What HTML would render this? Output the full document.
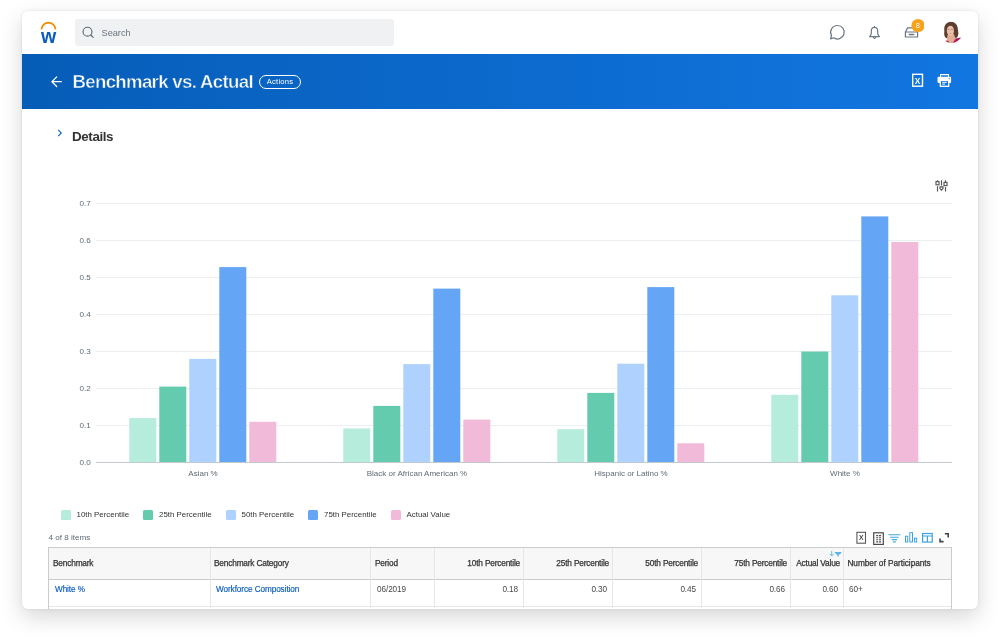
<!DOCTYPE html>
<html lang="en">
<head>
<meta charset="utf-8">
<title>Benchmark vs. Actual</title>
<style>
*{box-sizing:border-box;margin:0;padding:0}
html,body{width:1000px;height:642px;background:#fff;overflow:hidden;font-family:"Liberation Sans",sans-serif;color:#333}
#card{position:absolute;left:22px;top:11px;width:956px;height:598px;background:#fff;border-radius:6px;overflow:hidden;
 box-shadow:0 0 3px rgba(0,0,0,.10),0 8px 22px rgba(0,0,0,.16)}
#wrap{position:absolute;left:-22px;top:-11px;width:1000px;height:642px}
.abs{position:absolute}
#search{left:75px;top:19px;width:319px;height:26.6px;background:#f0f1f2;border-radius:3px}
#search span{position:absolute;left:26.5px;top:8.5px;font-size:9.2px;color:#69747f}
#hdr{left:22px;top:54px;width:956px;height:55.2px;background:linear-gradient(90deg,#065db8 0%,#1276e1 100%)}
#title{left:72.5px;top:71px;font-size:18.6px;line-height:22px;font-weight:bold;color:#fff;white-space:nowrap;letter-spacing:-0.66px;-webkit-text-stroke:.45px #0960bf}
#actions{left:259px;top:75px;width:42px;height:14px;border:1px solid #fff;border-radius:7px;color:#fff;font-size:7.6px;letter-spacing:.2px;text-align:center;line-height:12px}
#details{left:72px;top:129px;font-size:13.4px;line-height:16px;letter-spacing:-.4px;font-weight:bold;color:#333}
.yl{position:absolute;left:70.8px;margin-top:.1px;font-size:8.1px;color:#5e6a75;width:20px;text-align:right}
.xl{position:absolute;top:468.7px;font-size:8px;color:#5e6a75;width:214px;text-align:center;white-space:nowrap}
.lg{position:absolute;top:509.8px;font-size:7.9px;color:#333;white-space:nowrap;line-height:10px}
.lg i{position:absolute;left:-16px;top:0;width:10px;height:10px;border-radius:1.5px}
#items{left:48.5px;top:533.2px;font-size:8.1px;color:#5e6a75}
#tbl{left:48px;top:547px;width:904px;height:70px;border:1px solid #c9cbcd;border-bottom:none}
#thead{left:49px;top:548px;width:902px;height:32px;background:#f7f7f8;border-bottom:1px solid #c9cbcd}
.vd{position:absolute;top:548px;width:1px;height:60px;background:#e4e6e8}
.th{position:absolute;top:558px;font-size:8.3px;letter-spacing:-.18px;color:#333;-webkit-text-stroke:.25px #333;white-space:nowrap}
.td{position:absolute;top:585.4px;font-size:8.2px;letter-spacing:-.08px;color:#494949;white-space:nowrap}
.r{text-align:right}
a{color:#0a5cbd;text-decoration:none;-webkit-text-stroke:.15px #0a5cbd}
#rowline{left:49px;top:606px;width:902px;height:1px;background:#e4e6e8}
</style>
</head>
<body>
<div id="card"><div id="wrap">
<!-- top bar -->
<svg class="abs" style="left:38px;top:19px" width="22" height="26" viewBox="0 0 22 26">
 <path d="M3.6 9.7 A6.95 6.95 0 0 1 17.4 9.7" fill="none" stroke="#f38b00" stroke-width="1.8" stroke-linecap="round"/>
 <text x="10.5" y="24.1" text-anchor="middle" font-family="Liberation Sans, sans-serif" font-weight="bold" font-size="19.6" fill="#0b5cbe">w</text>
</svg>
<div id="search" class="abs">
 <svg class="abs" style="left:7px;top:6px" width="14" height="14" viewBox="0 0 14 14"><circle cx="5.5" cy="6.7" r="4.45" fill="none" stroke="#5e6a75" stroke-width="1.15"/><path d="M8.8 10 L11.2 12.4" stroke="#5e6a75" stroke-width="1.15" stroke-linecap="round"/></svg>
 <span>Search</span>
</div>
<!-- right icons -->
<svg class="abs" style="left:824px;top:18px" width="100" height="28" viewBox="824 18 100 28">
 <g fill="none" stroke="#6b7782" stroke-width="1.2" stroke-linejoin="round" stroke-linecap="round">
  <path d="M837.4 25.5 A6.75 6.75 0 1 1 833.6 37.8 L830.6 38.9 L831.5 35.5 A6.75 6.75 0 0 1 837.4 25.5 Z"/>
  <path d="M874.5 26.4 V27.3 M874.5 27.3 C872 27.3 871.3 29.4 871.3 31.2 V33.6 C871.3 34.8 870.4 35.6 869.6 36.6 H879.4 C878.6 35.6 877.7 34.8 877.7 33.6 V31.2 C877.7 29.4 877 27.3 874.5 27.3 Z"/>
  <path d="M873.4 37.6 A1.2 1.2 0 0 0 875.6 37.6"/>
  <path d="M905.4 32 L907.6 27.9 H915.4 L917.6 32 V37 H905.4 Z M905.4 32 H917.6"/>
  <path d="M909.2 34.5 H913.8" stroke-width="1.3"/>
 </g>
 <circle cx="918" cy="25.5" r="6.6" fill="#f9a21b"/>
 <text x="918" y="27.9" text-anchor="middle" font-family="Liberation Sans, sans-serif" font-size="6.8" fill="#fff">8</text>
</svg>
<!-- avatar -->
<svg class="abs" style="left:940px;top:20px" width="24" height="24" viewBox="940 20 24 24">
 <defs><clipPath id="avc"><circle cx="951.5" cy="32.2" r="10.7"/></clipPath></defs>
 <g clip-path="url(#avc)">
  <path d="M951 21.8 C946.5 21.8 943.8 25.5 944.3 30 C944.5 32.5 943.8 34 944.6 36 C945.4 38 947.5 39 950 38.6 L956.5 37.8 C958.6 36.5 958.6 33 958 30.5 C958 25.5 955.5 21.8 951 21.8 Z" fill="#5d3d2b"/>
  <path d="M947.6 35 L953.8 34 L955.4 38.2 L956 43.5 H946 Z" fill="#dfae94"/>
  <ellipse cx="950.4" cy="30.8" rx="3.6" ry="5.2" fill="#e9bfa9"/>
  <path d="M947.6 26.5 C948.5 24.6 951.5 24.3 953.6 26.4 C952 25.9 949.5 25.9 947.6 26.5Z" fill="#6b4a36"/>
  <ellipse cx="948.9" cy="29.4" rx=".75" ry=".45" fill="#5a4034"/><ellipse cx="952" cy="29.4" rx=".75" ry=".45" fill="#5a4034"/>
  <ellipse cx="950.4" cy="33.4" rx="1.1" ry=".45" fill="#cf7f7c"/>
  <path d="M952.6 43.5 L955.6 38.6 L960.8 37.6 L962.5 43.5 Z" fill="#b2195a"/>
  <path d="M944.5 43.5 L945.8 40.6 L948.4 41 L949.6 43.5 Z" fill="#b2195a"/>
 </g>
</svg>
<!-- header -->
<div id="hdr" class="abs"></div>
<svg class="abs" style="left:48px;top:72px" width="18" height="20" viewBox="48 72 18 20"><path d="M61.3 81.7 H52.2 M56.7 76.9 L51.9 81.7 L56.7 86.5" fill="none" stroke="#fff" stroke-width="1.25" stroke-linecap="round" stroke-linejoin="round"/></svg>
<div id="title" class="abs">Benchmark vs. Actual</div>
<div id="actions" class="abs">Actions</div>
<svg class="abs" style="left:908px;top:70px" width="48" height="20" viewBox="908 70 48 20">
 <rect x="912.7" y="74.3" width="9.8" height="11.9" fill="none" stroke="#fff" stroke-width="1.4"/>
 <text x="917.6" y="83.5" text-anchor="middle" font-family="Liberation Sans, sans-serif" font-size="8.4" font-weight="bold" fill="#fff">X</text>
 <path d="M940.5 77 V74.6 H948.5 V77" fill="none" stroke="#fff" stroke-width="1.05"/>
 <rect x="937.5" y="76.8" width="13.6" height="6.2" rx="1.2" fill="#fff"/>
 <rect x="940.3" y="80.4" width="8.4" height="5.9" fill="#1273de" stroke="#fff" stroke-width="1.3"/>
 <path d="M942.2 82.3 H946.8 M942.2 84.1 H945" stroke="#fff" stroke-width="1"/>
 <circle cx="949.2" cy="78.6" r=".7" fill="#1273de"/>
</svg>
<!-- details -->
<svg class="abs" style="left:55.6px;top:127.8px" width="8" height="10" viewBox="0 0 8 10"><path d="M2.2 1.9 L5.3 5 L2.2 8.1" fill="none" stroke="#0b62c4" stroke-width="1.1"/></svg>
<div id="details" class="abs">Details</div>
<!-- chart -->
<svg class="abs" style="left:0;top:0" width="1000" height="642" viewBox="0 0 1000 642" id="chart">
 <g stroke="#eceef0" stroke-width="1">
  <path d="M96 203.5H952M96 240.5H952M96 277.5H952M96 314.5H952M96 351.5H952M96 388.5H952M96 425.5H952"/>
 </g>
 <g id="bars">
<rect x="129.3" y="418.1" width="27" height="44.4" fill="#b5ecdc"/>
<rect x="159.3" y="386.6" width="27" height="75.8" fill="#65cbae"/>
<rect x="189.3" y="358.9" width="27" height="103.6" fill="#aed2fd"/>
<rect x="219.3" y="267.1" width="27" height="195.4" fill="#64a5f6"/>
<rect x="249.3" y="421.8" width="27" height="40.7" fill="#f1bad8"/>
<rect x="343.3" y="428.5" width="27" height="34.0" fill="#b5ecdc"/>
<rect x="373.3" y="405.9" width="27" height="56.6" fill="#65cbae"/>
<rect x="403.3" y="364.1" width="27" height="98.4" fill="#aed2fd"/>
<rect x="433.3" y="288.6" width="27" height="173.9" fill="#64a5f6"/>
<rect x="463.3" y="419.6" width="27" height="42.9" fill="#f1bad8"/>
<rect x="557.3" y="429.2" width="27" height="33.3" fill="#b5ecdc"/>
<rect x="587.3" y="392.9" width="27" height="69.6" fill="#65cbae"/>
<rect x="617.3" y="363.7" width="27" height="98.8" fill="#aed2fd"/>
<rect x="647.3" y="287.1" width="27" height="175.4" fill="#64a5f6"/>
<rect x="677.3" y="443.3" width="27" height="19.2" fill="#f1bad8"/>
<rect x="771.3" y="394.8" width="27" height="67.7" fill="#b5ecdc"/>
<rect x="801.3" y="351.5" width="27" height="111.0" fill="#65cbae"/>
<rect x="831.3" y="295.3" width="27" height="167.2" fill="#aed2fd"/>
<rect x="861.3" y="216.4" width="27" height="246.1" fill="#64a5f6"/>
<rect x="891.3" y="242.0" width="27" height="220.5" fill="#f1bad8"/>
</g>
 <path d="M96 462.5H952" stroke="#c4c9d0" stroke-width="1"/>
 <g stroke="#555" stroke-width="1.15" fill="#fff">
  <path d="M937.5 180.2V181.5M937.5 186.3V191.6M941.5 180.2V185.6M945.5 180.2V182M945.5 187V191.6"/>
  <rect x="936" y="181.6" width="3" height="3.2"/><path d="M940 186.8H943V188.6L941.5 190.2L940 188.6Z"/><rect x="944" y="182.4" width="3" height="3.2"/>
 </g>
</svg>
<div class="yl" style="top:199px">0.7</div>
<div class="yl" style="top:236px">0.6</div>
<div class="yl" style="top:273px">0.5</div>
<div class="yl" style="top:310px">0.4</div>
<div class="yl" style="top:347px">0.3</div>
<div class="yl" style="top:384px">0.2</div>
<div class="yl" style="top:421px">0.1</div>
<div class="yl" style="top:458px">0.0</div>
<div class="xl" style="left:96px">Asian %</div>
<div class="xl" style="left:310px">Black or African American %</div>
<div class="xl" style="left:524px">Hispanic or Latino %</div>
<div class="xl" style="left:738px">White %</div>
<div class="lg" style="left:76.5px"><i style="background:#b5ecdc"></i>10th Percentile</div>
<div class="lg" style="left:159px"><i style="background:#65cbae"></i>25th Percentile</div>
<div class="lg" style="left:241.5px"><i style="background:#aed2fd"></i>50th Percentile</div>
<div class="lg" style="left:324px"><i style="background:#64a5f6"></i>75th Percentile</div>
<div class="lg" style="left:406.5px"><i style="background:#f1bad8"></i>Actual Value</div>
<!-- table -->
<div id="items" class="abs">4 of 8 items</div>
<div id="tbl" class="abs"></div>
<div id="thead" class="abs"></div>
<div class="vd" style="left:210px"></div><div class="vd" style="left:370px"></div><div class="vd" style="left:434px"></div><div class="vd" style="left:523px"></div><div class="vd" style="left:612px"></div><div class="vd" style="left:701px"></div><div class="vd" style="left:790px"></div><div class="vd" style="left:843px"></div>
<div id="rowline" class="abs"></div>
<div class="th" style="left:53px">Benchmark</div>
<div class="th" style="left:214px">Benchmark Category</div>
<div class="th" style="left:375px">Period</div>
<div class="th r" style="right:480px">10th Percentile</div>
<div class="th r" style="right:391px">25th Percentile</div>
<div class="th r" style="right:302px">50th Percentile</div>
<div class="th r" style="right:213px">75th Percentile</div>
<div class="th r" style="right:160px">Actual Value</div>
<div class="th" style="left:847.4px;letter-spacing:-.05px">Number of Participants</div>
<div class="td" style="left:55px"><a>White %</a></div>
<div class="td" style="left:216px"><a>Workforce Composition</a></div>
<div class="td" style="left:377px">06/2019</div>
<div class="td r" style="right:482px">0.18</div>
<div class="td r" style="right:393px">0.30</div>
<div class="td r" style="right:304px">0.45</div>
<div class="td r" style="right:215px">0.66</div>
<div class="td r" style="right:162px">0.60</div>
<div class="td" style="left:849px">60+</div>
<svg class="abs" style="left:826px;top:548px" width="18" height="10" viewBox="826 548 18 10"><path d="M831.7 550.9V555.8M829.8 554L831.7 556L833.6 554" fill="none" stroke="#5bb6e8" stroke-width=".9"/><path d="M834.9 552H841.3V552.9L838.8 554.9V556.6H837.4V554.9L834.9 552.9Z" fill="#5bb6e8"/></svg>
<!-- table toolbar icons -->
<svg class="abs" style="left:852px;top:528px" width="102" height="20" viewBox="852 528 102 20" id="tb">
 <rect x="856.9" y="532.3" width="8.6" height="10.9" fill="none" stroke="#5a5a5a" stroke-width="1.1"/>
 <text x="861.2" y="540.4" text-anchor="middle" font-family="Liberation Sans, sans-serif" font-size="6.8" font-weight="bold" fill="#4a4a4a">X</text>
 <rect x="873.7" y="532.8" width="9.6" height="11.6" fill="none" stroke="#4a4a4a" stroke-width="1.2"/>
 <path d="M876.2 535.6H881M876.2 537.7H881M876.2 539.8H881M876.2 541.9H881" stroke="#4a4a4a" stroke-width="1.1" stroke-dasharray="2 0.8"/>
 <path d="M888.4 534.7H900.4M890.2 537.2H898.6M891.7 539.6H897.1M893 541.8H895.8" stroke="#45a9e2" stroke-width="1.15"/>
 <g fill="none" stroke="#3ba3e0" stroke-width="1"><rect x="905.5" y="536.2" width="2.2" height="5.8"/><rect x="909.8" y="532.7" width="2.7" height="9.3"/><rect x="914.6" y="538.2" width="2.1" height="3.8"/></g>
 <g fill="none" stroke="#3ba3e0" stroke-width="1.2"><rect x="922.6" y="533.5" width="9.6" height="8.6"/><path d="M922.6 536H932.2M927.4 536V542.1"/></g>
 <path d="M940 538.4V541.6H943.6M944.8 533.7H948.2V537.4" fill="none" stroke="#444" stroke-width="1.6"/>
</svg>
</div></div>
</body>
</html>
